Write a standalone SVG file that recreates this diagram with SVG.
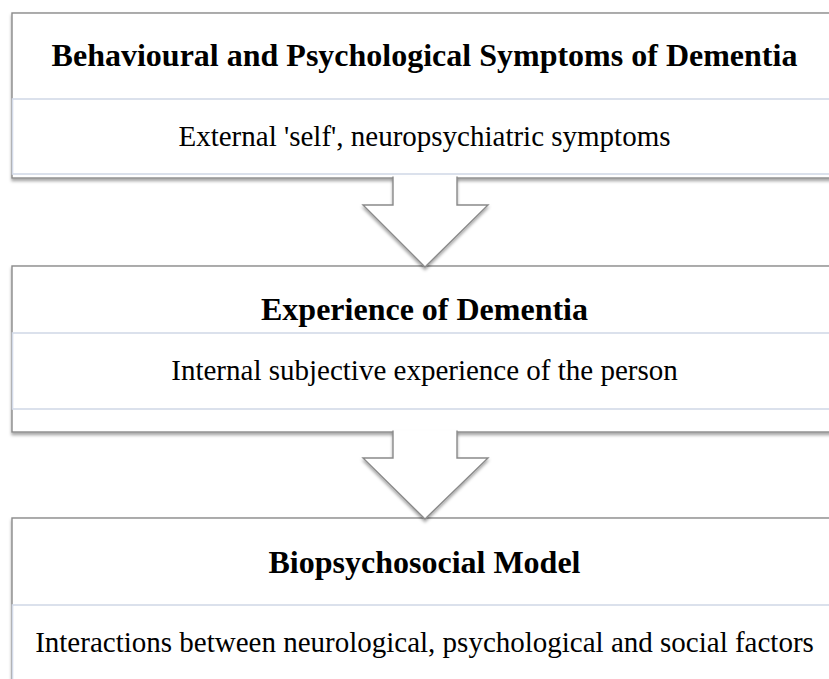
<svg xmlns="http://www.w3.org/2000/svg" width="829" height="679" viewBox="0 0 829 679">
<defs>
<filter id="sh" x="-5%" y="-10%" width="110%" height="130%">
<feDropShadow dx="0" dy="2.5" stdDeviation="1.6" flood-color="#000" flood-opacity="0.35"/>
</filter>
<style>
.outer{fill:#fff;stroke:#8a8a8a;stroke-width:1.4}
.inner{fill:#fff;stroke:#d3dae8;stroke-width:1.6}
.title{font-family:"Liberation Serif","Times New Roman",serif;font-weight:bold;font-size:32px;fill:#000;text-anchor:middle}
.sub{font-family:"Liberation Serif","Times New Roman",serif;font-size:29px;fill:#000;text-anchor:middle}
.arrow{fill:#fff;stroke:#8a8a8a;stroke-width:1.4;stroke-linejoin:miter}
</style>
</defs>
<rect width="829" height="679" fill="#fff"/>
<g id="node-bpsd">
<rect class="outer" x="12" y="13" width="840" height="165" filter="url(#sh)"/>
<rect class="inner" x="12.5" y="99" width="840" height="75"/>
<text class="title" x="424.5" y="66">Behavioural and Psychological Symptoms of Dementia</text>
<text class="sub" x="424.5" y="146">External 'self', neuropsychiatric symptoms</text>
</g>
<g id="node-experience">
<rect class="outer" x="12" y="266" width="840" height="166" filter="url(#sh)"/>
<rect class="inner" x="12.5" y="333" width="840" height="76"/>
<text class="title" x="424.5" y="320">Experience of Dementia</text>
<text class="sub" x="424.5" y="380">Internal subjective experience of the person</text>
</g>
<g id="node-biopsychosocial">
<rect class="outer" x="12" y="518" width="840" height="200" filter="url(#sh)"/>
<rect class="inner" x="12.5" y="605" width="840" height="120"/>
<text class="title" x="424.5" y="573">Biopsychosocial Model</text>
<text class="sub" x="424.5" y="652">Interactions between neurological, psychological and social factors</text>
</g>
<g id="connectors" filter="url(#sh)">
<path class="arrow" d="M393,176.5 V205 H363 L425,267 L488,205 H457 V176.5"/>
<path class="arrow" d="M393,430.5 V458 H363 L425,519 L488,458 H457 V430.5"/>
</g>
</svg>
